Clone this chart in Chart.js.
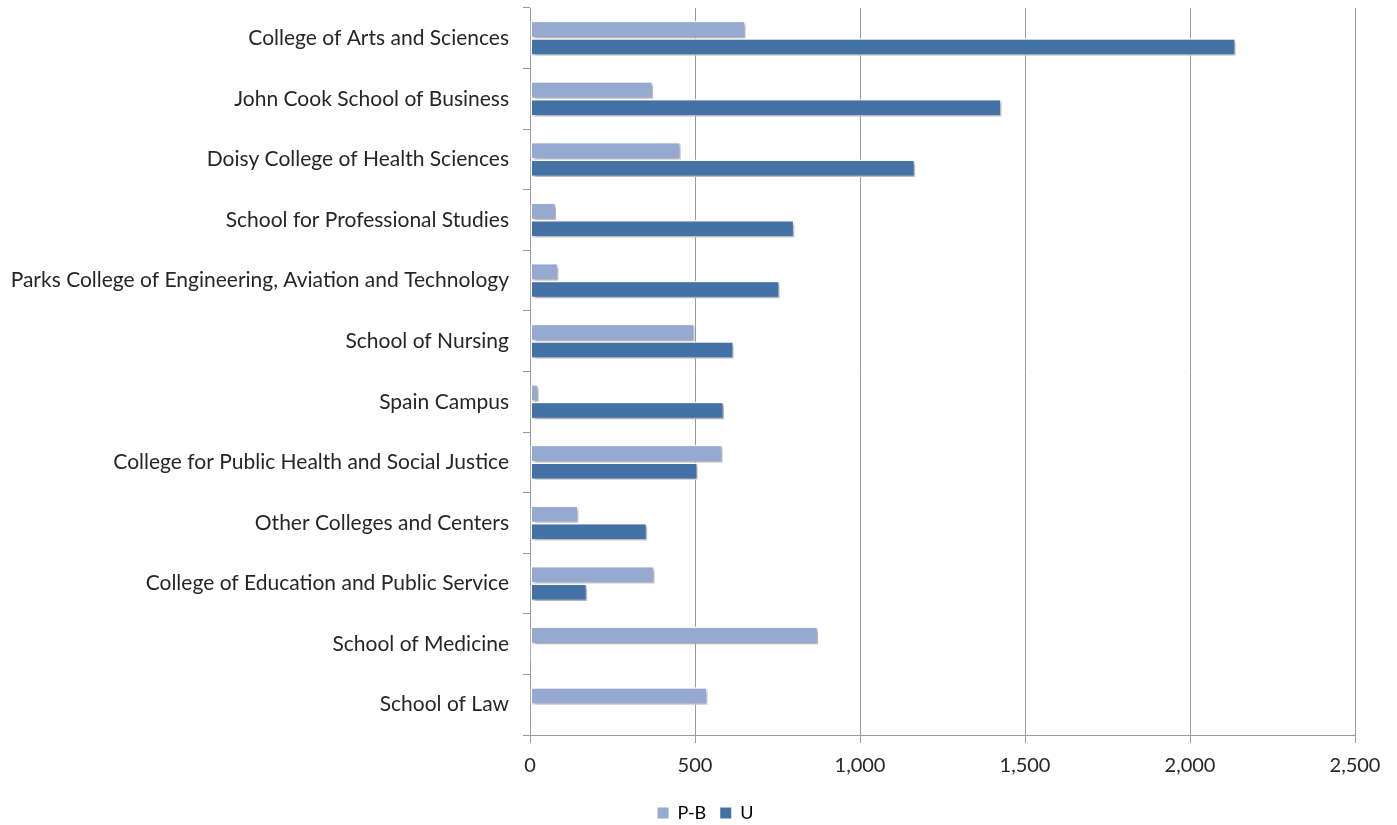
<!DOCTYPE html>
<html>
<head>
    <title>Enrollment by College</title>
    <script src="https://cdn.jsdelivr.net/npm/chart.js"></script>
    <style>
      body { margin: 0; background: #fff; }
      #wrap { width: 1397px; height: 825px; }
    </style>
</head>
<body>
    <div id="wrap"><canvas id="chart" width="1397" height="825"></canvas></div>

    <script>
    const colleges = [
      'College of Arts and Sciences',
      'John Cook School of Business',
      'Doisy College of Health Sciences',
      'School for Professional Studies',
      'Parks College of Engineering, Aviation and Technology',
      'School of Nursing',
      'Spain Campus',
      'College for Public Health and Social Justice',
      'Other Colleges and Centers',
      'College of Education and Public Service',
      'School of Medicine',
      'School of Law'
    ];
    const pbValues = [653, 373, 457, 79, 86, 499, 26, 584, 147, 377, 873, 538];
    const uValues = [2139, 1429, 1167, 801, 757, 618, 588, 509, 355, 173, 4, 0];
    const xTicks = [0, 500, 1000, 1500, 2000, 2500];

    const FONT = 'Lato, "Open Sans", sans-serif';
    const TEXT = '#262626';

    // soft drop shadow behind the bars
    const barShadow = {
      id: 'barShadow',
      beforeDatasetsDraw(chart) {
        const c = chart.ctx;
        c.save();
        c.shadowColor = 'rgba(0,0,0,0.35)';
        c.shadowBlur = 3;
        c.shadowOffsetX = 2;
        c.shadowOffsetY = 2;
      },
      afterDatasetsDraw(chart) {
        chart.ctx.restore();
      }
    };

    // legend sits a bit right of the canvas centre in the original
    const legendShift = {
      id: 'legendShift',
      afterLayout(chart) {
        const lg = chart.legend;
        lg.left += 28;
        lg.right += 28;
      }
    };

    const ctx = document.getElementById('chart').getContext('2d');
    const chart = new Chart(ctx, {
      type: 'bar',
      data: {
        labels: colleges,
        datasets: [
          {
            label: 'P-B',
            data: pbValues,
            backgroundColor: '#95a9d1',
            borderColor: '#ffffff',
            borderWidth: 1.5,
            borderSkipped: false,
            categoryPercentage: 0.58,
            barPercentage: 1
          },
          {
            label: 'U',
            data: uValues,
            backgroundColor: '#4472a6',
            borderColor: '#ffffff',
            borderWidth: 1.5,
            borderSkipped: false,
            categoryPercentage: 0.58,
            barPercentage: 1
          }
        ]
      },
      options: {
        indexAxis: 'y',
        responsive: false,
        animation: false,
        layout: { padding: { left: 0, right: 42, top: 8, bottom: -7 } },
        plugins: {
          tooltip: { enabled: false },
          legend: {
            position: 'bottom',
            labels: {
              font: { family: FONT, size: 18 },
              color: TEXT,
              boxWidth: 11,
              boxHeight: 11,
              padding: 14,
              generateLabels(ch) {
                return ch.data.datasets.map((ds, i) => ({
                  text: ds.label,
                  fillStyle: ds.backgroundColor,
                  strokeStyle: ds.backgroundColor,
                  lineWidth: 0,
                  datasetIndex: i
                }));
              }
            }
          }
        },
        scales: {
          x: {
            min: 0,
            max: 2500,
            afterBuildTicks(scale) {
              scale.ticks = xTicks.map(v => ({ value: v }));
            },
            afterFit(scale) { scale.height = 55; },
            ticks: {
              font: { family: FONT, size: 20 },
              color: TEXT,
              padding: 11,
              callback: v => v.toLocaleString('en-US')
            },
            grid: { color: '#9a9a9a', lineWidth: 1, tickLength: 8 },
            border: { color: '#9a9a9a' }
          },
          y: {
            afterFit(scale) {
              scale.width = 530;
              scale.paddingTop = 0;
              scale.paddingBottom = 0;
            },
            ticks: {
              font: { family: FONT, size: 21 },
              color: TEXT,
              padding: 14
            },
            grid: {
              offset: true,
              drawOnChartArea: false,
              color: '#9a9a9a',
              tickLength: 7
            },
            border: { color: '#9a9a9a' }
          }
        }
      },
      plugins: [barShadow, legendShift]
    });
    </script>
</body>
</html>
